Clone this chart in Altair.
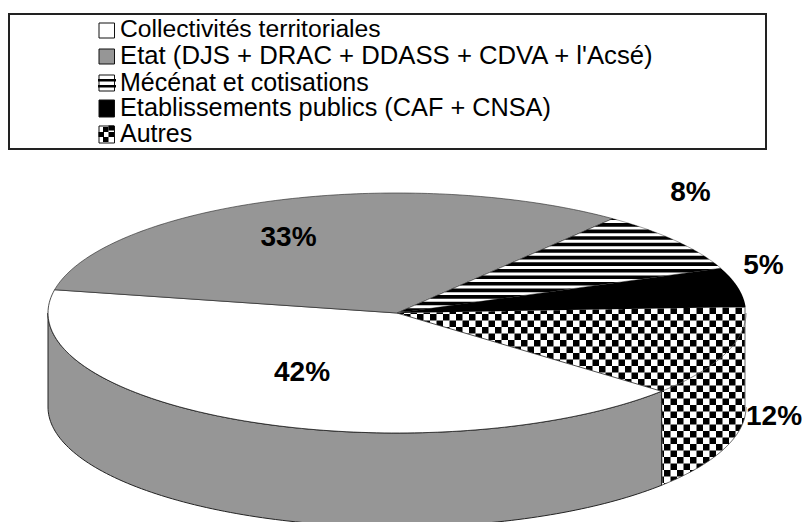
import math
import altair as alt
import pandas as pd

categories = ["Collectivités territoriales",
              "Etat (DJS + DRAC + DDASS + CDVA + l'Acsé)",
              "Mécénat et cotisations",
              "Etablissements publics (CAF + CNSA)",
              "Autres"]
shares = [41.8, 32.5, 8.3, 5.3, 12.1]
share_labels = ["42%", "33%", "8%", "5%", "12%"]
label_centres = [(302, 373), (288.5, 238), (690.5, 193), (763.5, 266), (774, 417)]
legend_font = [24.7, 25.7, 25, 25.3, 25]
baselines = [37, 64, 90.5, 116, 142]
swatch_y = [(23, 38), (49, 64), (75, 91), (100, 117), (126, 143)]

W, H = 794, 514
OX, OY = 8, 8
CX, CY, RX, RY, DEPTH = 397, 313, 349, 120, 94
START = 319.3
GREY = "#969696"
EDGE = "#222222"
CELL = 6.5
CELL_X0, CELL_Y0 = 664.0, 392.0
STRIPE = 6.55
STRIPE_Y0 = 216.5

xs = alt.Scale(domain=[OX, OX + W], range=[0, W], nice=False, zero=False)
ys = alt.Scale(domain=[OY, OY + H], range=[0, H], nice=False, zero=False)
X = alt.X("x:Q", scale=xs, axis=None)
Y = alt.Y("y:Q", scale=ys, axis=None)
Y2 = alt.Y2("y2:Q")

bounds = []
a = START
for s in shares:
    bounds.append((a, a - s * 3.6))
    a -= s * 3.6
b_white, b_grey, b_stripe, b_black, b_check = bounds


def pt(t, dy=0.0):
    r = math.radians(t)
    return CX + RX * math.cos(r), CY - RY * math.sin(r) + dy


def arc(t0, t1, dy=0.0, n=120):
    return [pt(t0 + (t1 - t0) * i / n, dy) for i in range(n + 1)]


def wedge(t0, t1):
    return [(CX, CY)] + arc(t0, t1)


def clip_band(poly, y0, y1):
    def cut(p, inside, v):
        out = []
        for i in range(len(p)):
            c, d = p[i], p[(i + 1) % len(p)]
            if inside(c) != inside(d):
                m = (c[0] + (d[0] - c[0]) * (v - c[1]) / (d[1] - c[1]), v)
                out += [c, m] if inside(c) else [m]
            elif inside(c):
                out.append(c)
        return out
    poly = cut(poly, lambda q: q[1] >= y0, y0)
    return cut(poly, lambda q: q[1] <= y1, y1) if poly else poly


def rows(polys, close=True):
    out = []
    for k, p in enumerate(polys):
        p = list(p) + ([p[0]] if close else [])
        out += [{"x": q[0], "y": q[1], "poly": k, "i": i} for i, q in enumerate(p)]
    return pd.DataFrame(out)


def filled(polys, fill, stroke=None, sw=1.0):
    return alt.Chart(rows(polys)).mark_line(
        clip=False, fill=fill, stroke=stroke or fill, strokeWidth=sw if stroke else 0
    ).encode(x=X, y=Y, order="i:Q", detail="poly:N")


def stroke_only(points, color, sw):
    return alt.Chart(rows([points], close=False)).mark_line(
        clip=False, stroke=color, strokeWidth=sw
    ).encode(x=X, y=Y, order="i:Q")


layers = []
white_end = b_white[0]

# grey side of the first slice
side = arc(180.0, white_end) + arc(white_end, 180.0, DEPTH)
layers.append(filled([side], GREY, EDGE, 1.0))

# chequered region: wedge on top plus its side
check_a = pt(b_check[0])
check_b = pt(b_check[1])
RIGHT = CX + RX - 1


def upper(x):
    if x <= check_a[0]:
        return CY + (check_a[1] - CY) * (x - CX) / (check_a[0] - CX)
    return check_a[1]


def lower(x):
    if x <= check_b[0]:
        return CY + (check_b[1] - CY) * (x - CX) / (check_b[0] - CX)
    v = max(0.0, 1 - ((x - CX) / RX) ** 2)
    return CY + RY * math.sqrt(v) + DEPTH


steps = [CX + i * (RIGHT - CX) / 348 for i in range(349)]
layers.append(alt.Chart(pd.DataFrame([(x, upper(x), lower(x)) for x in steps], columns=["x", "y", "y2"]))
              .mark_area(color="white", clip=False).encode(x=X, y=Y, y2=Y2))

cell_rows = []
cid = 0
col = -60
while CELL_X0 + col * CELL < RIGHT:
    xl = CELL_X0 + col * CELL
    for row in range(-16, 30):
        if (col + row) % 2:
            continue
        yt = CELL_Y0 + row * CELL
        xa, xb = max(xl, CX), min(xl + CELL, RIGHT)
        if xb <= xa:
            continue
        pts = []
        for j in range(5):
            x = xa + (xb - xa) * j / 4
            ya, yb = max(yt, upper(x)), min(yt + CELL, lower(x))
            if yb < ya:
                ya = yb = (ya + yb) / 2
            pts.append({"x": x, "y": ya, "y2": yb, "cell": cid})
        if any(p["y2"] > p["y"] for p in pts):
            cell_rows += pts
            cid += 1
    col += 1
layers.append(alt.Chart(pd.DataFrame(cell_rows)).mark_area(color="black", clip=False).encode(
    x=X, y=Y, y2=Y2, detail="cell:N"))

# thin outlines of the chequered part
layers.append(stroke_only(arc(white_end, 360.0), "#555555", 0.8))
layers.append(stroke_only(arc(white_end, 360.0, DEPTH), "#333333", 0.8))
layers.append(stroke_only([pt(white_end), pt(white_end, DEPTH)], EDGE, 1.0))
layers.append(stroke_only([(RIGHT, check_a[1]), (RIGHT, CY + DEPTH)], "#666666", 1.0))

# top face
layers.append(filled([wedge(b_white[0], b_white[1])], "white", EDGE, 0.8))
layers.append(filled([wedge(b_grey[0], b_grey[1])], GREY, EDGE, 0.6))
layers.append(filled([wedge(b_stripe[0], b_stripe[1])], "white", "#333333", 0.5))
sw = wedge(b_stripe[0], b_stripe[1])
stripes = []
yy = STRIPE_Y0
while yy < 320:
    p = clip_band(sw, yy, yy + 3.6)
    if p:
        stripes.append(p)
    yy += STRIPE
layers.append(filled(stripes, "black"))
layers.append(filled([wedge(b_black[0], b_black[1])], "black"))

# legend
one = pd.DataFrame({"a": [0]})
layers.append(alt.Chart(one).mark_rect(fill="white", stroke=EDGE, strokeWidth=2).encode(
    x=alt.value(9 - OX), x2=alt.value(766 - OX), y=alt.value(14 - OY), y2=alt.value(149 - OY)))


def box(x0, x1, y0, y1, fill="black", stroke=None):
    kw = {"fill": fill}
    if stroke:
        kw.update(stroke=stroke, strokeWidth=1)
    return alt.Chart(one).mark_rect(**kw).encode(
        x=alt.value(x0 - OX), x2=alt.value(x1 - OX), y=alt.value(y0 - OY), y2=alt.value(y1 - OY))


fills = ["white", GREY, "white", "black", "white"]
for idx, (c, bl, (y0, y1), f, fs) in enumerate(zip(categories, baselines, swatch_y, fills, legend_font)):
    layers.append(box(99, 114.5, y0, y1, f, "#111111"))
    if idx == 2:
        for by in (y0 + 4, y0 + 10):
            layers.append(box(98, 116, by, by + 2.5))
    if idx == 4:
        for (cx, cy) in [(103, y0 + 1), (108.5, y0 + 6), (103, y0 + 11), (98.5, y0 + 6), (108.5, y0 - 0.5)]:
            layers.append(box(cx, cx + 5.5, cy, cy + 5))
    layers.append(alt.Chart(pd.DataFrame({"t": [c]})).mark_text(
        align="left", baseline="alphabetic", font="Liberation Sans", fontSize=fs, color="black"
    ).encode(x=alt.value(120 - OX), y=alt.value(bl - OY), text="t:N"))

for lab, (px, py) in zip(share_labels, label_centres):
    layers.append(alt.Chart(pd.DataFrame({"t": [lab]})).mark_text(
        align="center", baseline="middle", font="Liberation Sans", fontWeight="bold", fontSize=28, color="black"
    ).encode(x=alt.value(px - OX), y=alt.value(py - OY), text="t:N"))

chart = alt.layer(*layers).properties(
    width=W, height=H, padding=0, autosize=alt.AutoSizeParams(type="none"), background="white"
).configure_view(stroke=None)

chart.save("out.html", embed_options={"renderer": "svg", "actions": False})
